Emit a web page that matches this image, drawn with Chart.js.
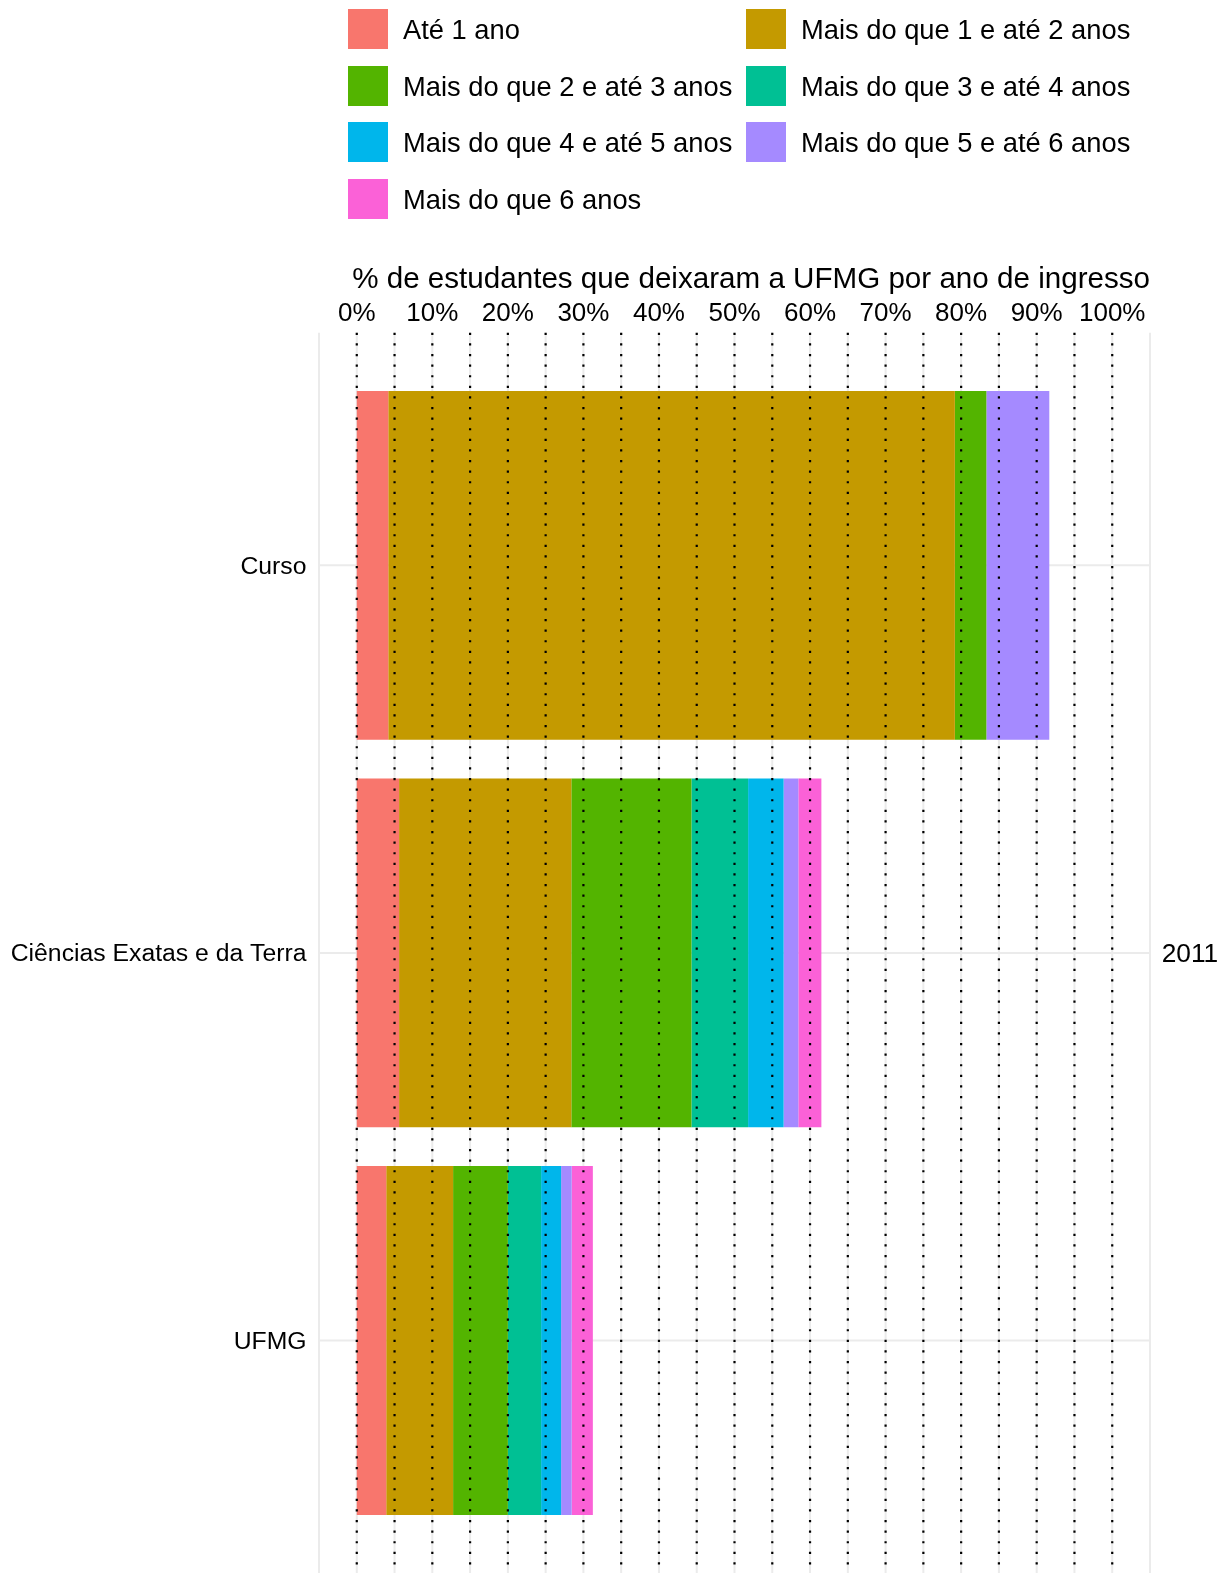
<!DOCTYPE html>
<html><head><meta charset="utf-8">
<script src="https://cdn.jsdelivr.net/npm/chart.js@4"></script>
<style>
html,body{margin:0;padding:0;background:#fff;}
#wrap{position:relative;width:1225px;height:1574px;overflow:hidden;}
canvas{position:absolute;left:0;top:0;}
.leg{position:absolute;display:flex;align-items:center;height:40px;font-family:"Liberation Sans",Arial,sans-serif;font-size:27.3px;color:#000;white-space:nowrap;}
.leg .box{width:40px;height:40px;margin-right:15px;flex:none;}
.leg span{position:relative;top:1px;}
</style></head><body>
<div id="wrap"><canvas id="c" width="1225" height="1574"></canvas><div id="legend"></div></div>
<script>
const categories = ['Curso', 'Ciências Exatas e da Terra', 'UFMG'];
const seriesNames = ['Até 1 ano', 'Mais do que 1 e até 2 anos', 'Mais do que 2 e até 3 anos', 'Mais do que 3 e até 4 anos', 'Mais do que 4 e até 5 anos', 'Mais do que 5 e até 6 anos', 'Mais do que 6 anos'];
const seriesColors = ['#F8766D', '#C49A00', '#53B400', '#00C094', '#00B6EB', '#A58AFF', '#FB61D7'];
// values in % (Curso, Ciências Exatas e da Terra, UFMG)
const ate1 = [4.17, 5.6, 3.9];
const de1a2 = [75.0, 22.8, 8.85];
const de2a3 = [4.17, 15.9, 7.25];
const de3a4 = [0, 7.5, 4.4];
const de4a5 = [0, 4.7, 2.65];
const de5a6 = [8.33, 1.95, 1.4];
const mais6 = [0, 3.05, 2.8];
const tickValues = [0, 10, 20, 30, 40, 50, 60, 70, 80, 90, 100];
const gridValues = [0, 5, 10, 15, 20, 25, 30, 35, 40, 45, 50, 55, 60, 65, 70, 75, 80, 85, 90, 95, 100];
const facetLabels = ['', '2011', ''];
const axisTitle = '% de estudantes que deixaram a UFMG por ano de ingresso';

const seriesValues = [ate1, de1a2, de2a3, de3a4, de4a5, de5a6, mais6];
const FAMILY = '"Liberation Sans", Arial, sans-serif';

// HTML legend (2 columns, filled by row)
const legendEl = document.getElementById('legend');
seriesNames.forEach((name, i) => {
  const row = Math.floor(i / 2), col = i % 2;
  const d = document.createElement('div');
  d.className = 'leg';
  d.style.left = (col === 0 ? 348 : 746) + 'px';
  d.style.top = (9.3 + row * 56.5) + 'px';
  const b = document.createElement('div');
  b.className = 'box';
  b.style.background = seriesColors[i];
  const t = document.createElement('span');
  t.textContent = name;
  d.appendChild(b); d.appendChild(t);
  legendEl.appendChild(d);
});

const panelPlugin = {
  id: 'panel',
  beforeDatasetsDraw(chart) {
    const {ctx, chartArea, scales: {x, y}} = chart;
    const unit = y.getPixelForValue(1) - y.getPixelForValue(0);
    const top = y.getPixelForValue(0) - 0.6 * unit;
    const bottom = y.getPixelForValue(categories.length - 1) + 0.6 * unit;
    ctx.save();
    ctx.strokeStyle = '#ebebeb';
    ctx.lineWidth = 2;
    categories.forEach((c, i) => {
      const py = y.getPixelForValue(i);
      ctx.beginPath(); ctx.moveTo(chartArea.left, py); ctx.lineTo(chartArea.right, py); ctx.stroke();
    });
    [x.min].concat(gridValues, [x.max]).forEach(v => {
      const px = x.getPixelForValue(v);
      ctx.beginPath(); ctx.moveTo(px, top); ctx.lineTo(px, bottom); ctx.stroke();
    });
    ctx.restore();
  },
  afterDatasetsDraw(chart) {
    const {ctx, scales: {x, y}} = chart;
    const unit = y.getPixelForValue(1) - y.getPixelForValue(0);
    const top = y.getPixelForValue(0) - 0.6 * unit;
    const bottom = y.getPixelForValue(categories.length - 1) + 0.6 * unit;
    ctx.save();
    ctx.strokeStyle = '#000';
    ctx.lineWidth = 2.2;
    ctx.lineCap = 'butt';
    ctx.setLineDash([2.2, 8.4]);
    gridValues.forEach(v => {
      const px = x.getPixelForValue(v);
      ctx.beginPath(); ctx.moveTo(px, top); ctx.lineTo(px, bottom); ctx.stroke();
    });
    ctx.restore();
  }
};

new Chart(document.getElementById('c'), {
  type: 'bar',
  data: {
    labels: categories,
    datasets: seriesValues.map((v, i) => ({
      label: seriesNames[i], data: v, backgroundColor: seriesColors[i],
      borderWidth: 0, categoryPercentage: 0.9, barPercentage: 1
    }))
  },
  options: {
    indexAxis: 'y',
    responsive: false,
    animation: false,
    layout: {padding: {left: 0, right: 0, top: 0, bottom: 39.7}},
    plugins: {legend: {display: false}, tooltip: {enabled: false}},
    scales: {
      x: {
        type: 'linear', position: 'top', stacked: true, min: -5, max: 105,
        afterBuildTicks: s => { s.ticks = tickValues.map(v => ({value: v})); },
        ticks: {callback: v => v + '%', font: {family: FAMILY, size: 26}, color: '#000', padding: 41.6, maxRotation: 0, autoSkip: false},
        grid: {display: false, drawTicks: false},
        border: {display: false},
        title: {display: true, text: axisTitle, align: 'end', font: {family: FAMILY, size: 29.6}, color: '#000', padding: {top: 261.8, bottom: 0}},
        afterFit: s => { s.height = 371.5; }
      },
      y: {
        type: 'category', position: 'left', stacked: true,
        ticks: {font: {family: FAMILY, size: 24.75}, color: '#000', padding: 12.5, labelOffset: 1.5},
        grid: {display: false, drawTicks: false},
        border: {display: false},
        afterFit: s => { s.width = 319; }
      },
      y2: {
        type: 'category', axis: 'y', position: 'right', labels: facetLabels, offset: true,
        ticks: {font: {family: FAMILY, size: 26.3}, color: '#000', padding: 11.7, labelOffset: 1.5},
        grid: {display: false, drawTicks: false},
        border: {display: false},
        afterFit: s => { s.width = 75; }
      }
    }
  },
  plugins: [panelPlugin]
});
</script>
</body></html>
